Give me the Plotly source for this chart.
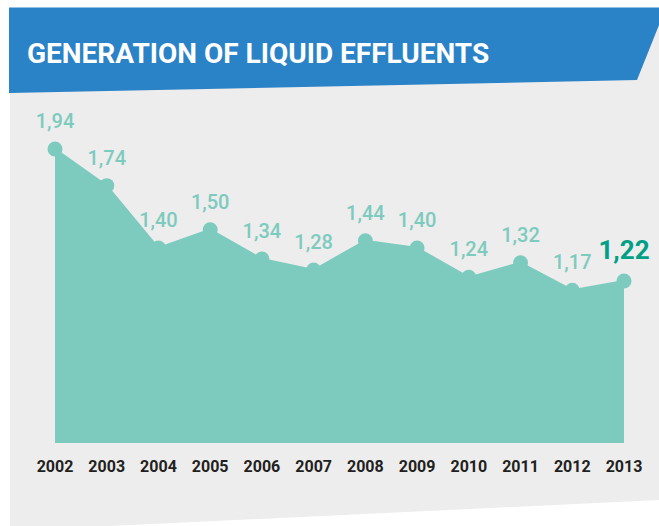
import plotly.graph_objects as go

years = [2002, 2003, 2004, 2005, 2006, 2007, 2008, 2009, 2010, 2011, 2012, 2013]
values = [1.94, 1.74, 1.40, 1.50, 1.34, 1.28, 1.44, 1.40, 1.24, 1.32, 1.17, 1.22]
labels = ["1,94", "1,74", "1,40", "1,50", "1,34", "1,28", "1,44", "1,40", "1,24", "1,32", "1,17", "1,22"]
title = "GENERATION OF LIQUID EFFLUENTS"

W, H = 659, 526
TEAL = "#7DCBBE"
DARK_TEAL = "#00A086"
BLUE = "#2A82C7"
GREY = "#EDEDED"
FONT = "Roboto, Liberation Sans, sans-serif"


def px(x):
    return x / W


def py(y):
    # pixel from top -> paper from bottom
    return 1 - y / H


n = len(values)
label_colors = [TEAL] * (n - 1) + [DARK_TEAL]
label_sizes = [20] * (n - 1) + [26]
label_weights = [500] * (n - 1) + ["bold"]

fig = go.Figure()
fig.add_trace(
    go.Scatter(
        x=years,
        y=values,
        mode="lines+markers",
        fill="tozeroy",
        fillcolor=TEAL,
        line={"color": TEAL, "width": 2},
        marker={"color": TEAL, "size": 15},
        cliponaxis=False,
        hoverinfo="skip",
    )
)
# value labels, pushed up a bit by an invisible larger marker
fig.add_trace(
    go.Scatter(
        x=years,
        y=values,
        mode="markers+text",
        marker={"color": "rgba(0,0,0,0)", "size": 24},
        text=labels,
        textposition="top center",
        textfont={"family": FONT, "size": label_sizes, "color": label_colors,
                  "weight": label_weights},
        cliponaxis=False,
        hoverinfo="skip",
    )
)

shapes = [
    # grey panel with slanted bottom
    dict(type="path", xref="paper", yref="paper", layer="below",
         path=f"M {px(10)},{py(20)} L {px(659)},{py(20)} L {px(659)},{py(500)} "
              f"L {px(110)},{py(526)} L {px(10)},{py(526)} Z",
         fillcolor=GREY, line={"width": 0}),
    # blue title banner
    dict(type="path", xref="paper", yref="paper", layer="below",
         path=f"M {px(9)},{py(7.5)} L {px(659)},{py(7.5)} L {px(659)},{py(25)} "
              f"L {px(637)},{py(80)} L {px(9)},{py(93)} Z",
         fillcolor=BLUE, line={"width": 0}),
]

fig.update_layout(
    width=W,
    height=H,
    margin={"l": 0, "r": 0, "t": 0, "b": 0, "autoexpand": False},
    paper_bgcolor="white",
    plot_bgcolor="rgba(0,0,0,0)",
    showlegend=False,
    shapes=shapes,
    annotations=[
        dict(text=title, xref="paper", yref="paper", x=px(25), y=py(54),
             xanchor="left", yanchor="middle", showarrow=False,
             font={"family": FONT, "size": 28, "color": "white", "weight": "bold"}),
    ],
    xaxis={
        "domain": [px(55), px(624)],
        "range": [2002, 2013],
        "tickvals": years,
        "ticktext": [str(y) for y in years],
        "tickangle": 0,
        "automargin": False,
        "tickfont": {"family": FONT, "size": 16, "color": "#231F20", "weight": "bold"},
        "showgrid": False,
        "zeroline": False,
        "showline": False,
        "ticks": "outside",
        "ticklen": 9,
        "tickcolor": "rgba(0,0,0,0)",
    },
    yaxis={
        "domain": [py(443), py(100)],
        "range": [0.337, 2.207],
        "visible": False,
        "showgrid": False,
        "zeroline": False,
    },
)

fig.write_html("out.html", config={"displayModeBar": False},
               post_script="document.body.style.margin = '0';")
